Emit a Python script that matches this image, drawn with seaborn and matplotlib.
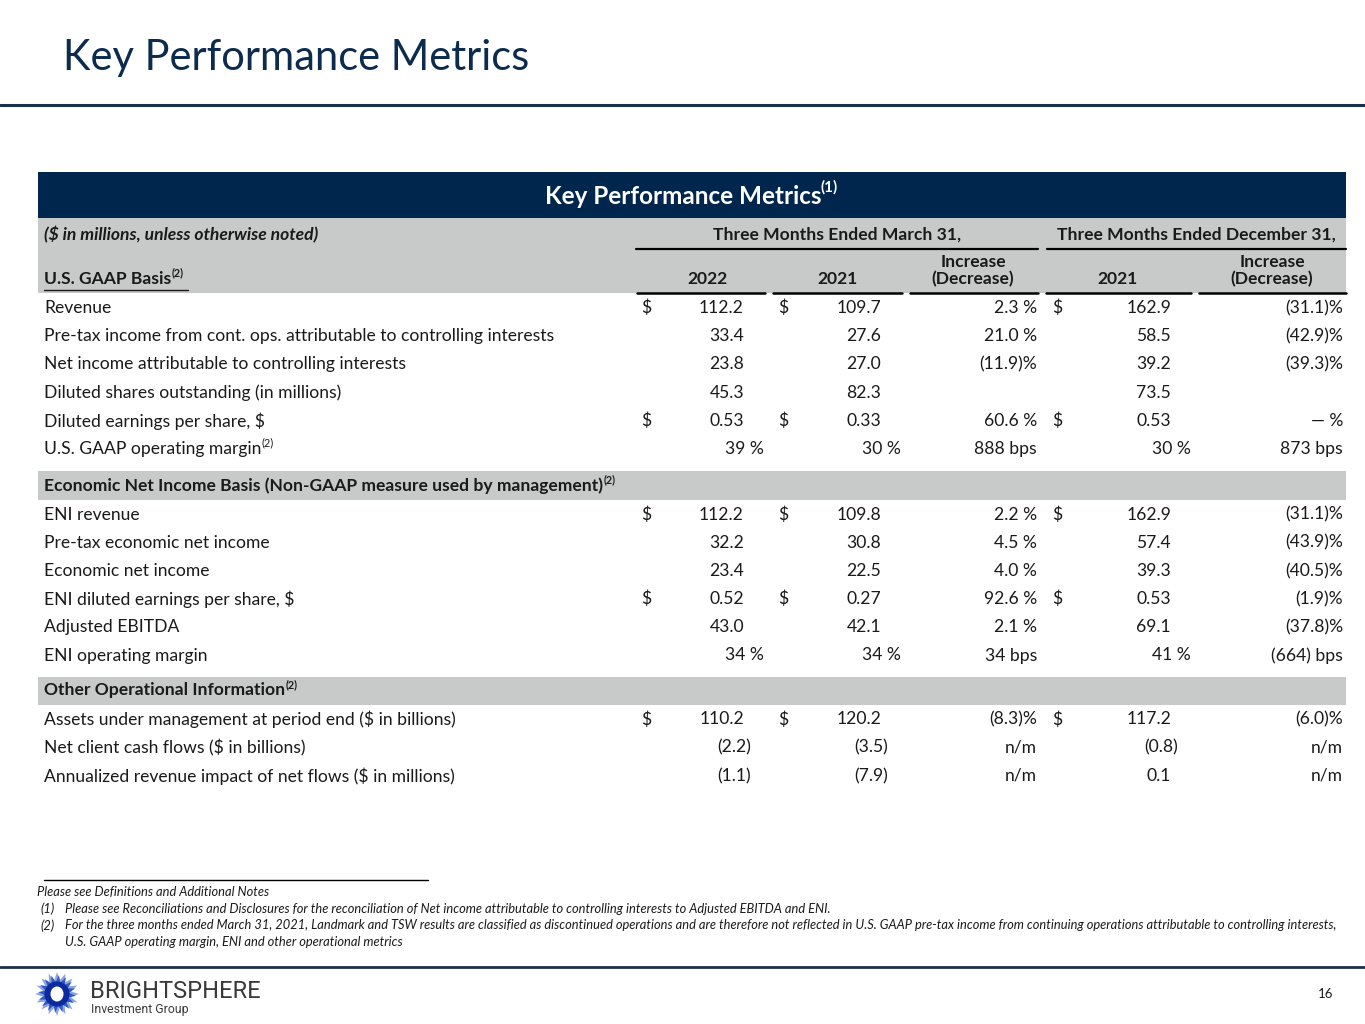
import numpy as np
import pandas as pd
import matplotlib.pyplot as plt
import matplotlib.patches as mpatches
import seaborn as sns

sns.set_theme(style="white")
plt.rcParams['font.family'] = ['Lato', 'DejaVu Sans']

NAVY = '#00264D'
GRAY = '#C8CACA'
INK = '#1A1A1A'

# ---- data (as shown on the slide) ----
col_heads = ['2022', '2021', 'Increase\n(Decrease)', '2021', 'Increase\n(Decrease)']

gaap_labels = ['Revenue',
               'Pre-tax income from cont. ops. attributable to controlling interests',
               'Net income attributable to controlling interests',
               'Diluted shares outstanding (in millions)',
               'Diluted earnings per share, $',
               'U.S. GAAP operating margin']
gaap_sup = [None, None, None, None, None, '(2)']
gaap_dollar = [True, False, False, False, True, False]
gaap_mar22 = ['112.2', '33.4', '23.8', '45.3', '0.53', '39 %']
gaap_mar21 = ['109.7', '27.6', '27.0', '82.3', '0.33', '30 %']
gaap_chg_mar = ['2.3 %', '21.0 %', '(11.9)%', '', '60.6 %', '888 bps']
gaap_dec21 = ['162.9', '58.5', '39.2', '73.5', '0.53', '30 %']
gaap_chg_dec = ['(31.1)%', '(42.9)%', '(39.3)%', '', '— %', '873 bps']

eni_labels = ['ENI revenue', 'Pre-tax economic net income', 'Economic net income',
              'ENI diluted earnings per share, $', 'Adjusted EBITDA', 'ENI operating margin']
eni_dollar = [True, False, False, True, False, False]
eni_mar22 = ['112.2', '32.2', '23.4', '0.52', '43.0', '34 %']
eni_mar21 = ['109.8', '30.8', '22.5', '0.27', '42.1', '34 %']
eni_chg_mar = ['2.2 %', '4.5 %', '4.0 %', '92.6 %', '2.1 %', '34 bps']
eni_dec21 = ['162.9', '57.4', '39.3', '0.53', '69.1', '41 %']
eni_chg_dec = ['(31.1)%', '(43.9)%', '(40.5)%', '(1.9)%', '(37.8)%', '(664) bps']

ops_labels = ['Assets under management at period end ($ in billions)',
              'Net client cash flows ($ in billions)',
              'Annualized revenue impact of net flows ($ in millions)']
ops_dollar = [True, False, False]
ops_mar22 = ['110.2', '(2.2)', '(1.1)']
ops_mar21 = ['120.2', '(3.5)', '(7.9)']
ops_chg_mar = ['(8.3)%', 'n/m', 'n/m']
ops_dec21 = ['117.2', '(0.8)', '0.1']
ops_chg_dec = ['(6.0)%', 'n/m', 'n/m']

footnotes = ['Please see Reconciliations and Disclosures for the reconciliation of Net income attributable to controlling interests to Adjusted EBITDA and ENI.',
             'For the three months ended March 31, 2021, Landmark and TSW results are classified as discontinued operations and are therefore not reflected in U.S. GAAP pre-tax income from continuing operations attributable to controlling interests,\nU.S. GAAP operating margin, ENI and other operational metrics']

# ---- canvas in pixel units ----
W, H = 1365, 1024
fig = plt.figure(figsize=(W / 100, H / 100), dpi=100)
ax = fig.add_axes([0, 0, 1, 1])
ax.set_xlim(0, W)
ax.set_ylim(H, 0)
ax.axis('off')
renderer = fig.canvas.get_renderer()

BODY = 12.6


def put(x, y, s, sup=None, size=BODY, sup_size=None, **kw):
    kw.setdefault('color', INK)
    t = ax.text(x, y, s, fontsize=size, va='center', **kw)
    if sup:
        bb = t.get_window_extent(renderer)
        ax.text(bb.x1 + 0.5, y - size * 0.5, sup, fontsize=sup_size or size * 0.62,
                va='center', ha='left', color=kw['color'], fontweight=kw.get('fontweight', 'normal'))
    return t


# title
ax.text(63, 58, 'Key Performance Metrics', fontsize=30, color='#0D2B4E', va='center')
ax.plot([0, W], [105, 105], color='#1C2F4A', lw=2.2)

# table header bands
L, R = 38, 1346
ax.add_patch(mpatches.Rectangle((L, 172), R - L, 46, color=NAVY, lw=0))
ax.add_patch(mpatches.Rectangle((L, 218), R - L, 75, color=GRAY, lw=0))
ht = ax.text(683, 196, 'Key Performance Metrics', fontsize=17.5, fontweight='bold',
             color='white', va='center', ha='center')
bb = ht.get_window_extent(renderer)
ax.text(bb.x1 - 1, 187, '(1)', fontsize=11, fontweight='bold', color='white', va='center')

put(44, 235, '($ in millions, unless otherwise noted)', fontweight='bold', style='italic')
ax.text(837, 235, 'Three Months Ended March 31,', fontsize=BODY, fontweight='bold', ha='center', va='center', color=INK)
ax.text(1196, 235, 'Three Months Ended December 31,', fontsize=BODY, fontweight='bold', ha='center', va='center', color=INK)
ax.plot([636, 1038], [249, 249], color='black', lw=1.6)
ax.plot([1047, 1346], [249, 249], color='black', lw=1.6)

t = put(44, 279, 'U.S. GAAP Basis', sup='(2)', fontweight='bold')
bb = t.get_window_extent(renderer)
ax.plot([44, bb.x1 + 17], [290, 290], color=INK, lw=1)

seg = [(637, 765), (773, 902), (910, 1038), (1046, 1191), (1199, 1346)]
head_x = [707, 837, 973, 1118, 1272]
for (a, b), hx, lab in zip(seg, head_x, col_heads):
    ax.text(hx, 279 if '\n' not in lab else 270.5, lab, fontsize=BODY, fontweight='bold',
            ha='center', va='center', color=INK, linespacing=1.05)
    ax.plot([a, b], [293, 293], color='black', lw=1.8)

# column anchors
num_right = [744, 881, 1037, 1171, 1343]
dollar_x = [641, 778, None, 1052, None]


def num_cell(ci, y, s):
    if not s:
        return
    r = num_right[ci]
    if ci in (0, 1, 3):
        if s.endswith('%'):
            r += 20
        elif s.endswith(')'):
            r += 7
    ax.text(r, y, s, fontsize=BODY, ha='right', va='center', color=INK)


def draw_rows(y0, labels, dollars, cols, sups=None):
    ys = y0 + np.arange(len(labels)) * 28.2
    for i, y in enumerate(ys):
        put(44, y, labels[i], sup=sups[i] if sups else None)
        for ci, col in enumerate(cols):
            num_cell(ci, y, col[i])
        if dollars[i]:
            for dx in dollar_x:
                if dx is not None:
                    ax.text(dx, y, '$', fontsize=BODY, ha='left', va='center', color=INK)
    return ys[-1]


last = draw_rows(308, gaap_labels, gaap_dollar,
                 [gaap_mar22, gaap_mar21, gaap_chg_mar, gaap_dec21, gaap_chg_dec], gaap_sup)

band = last + 36.5
ax.add_patch(mpatches.Rectangle((L, band - 14.5), R - L, 29, color=GRAY, lw=0))
put(44, band, 'Economic Net Income Basis (Non-GAAP measure used by management)', sup='(2)', fontweight='bold')
last = draw_rows(band + 29, eni_labels, eni_dollar,
                 [eni_mar22, eni_mar21, eni_chg_mar, eni_dec21, eni_chg_dec])

band = last + 35
ax.add_patch(mpatches.Rectangle((L, band - 14), R - L, 28, color=GRAY, lw=0))
put(44, band, 'Other Operational Information', sup='(2)', fontweight='bold')
draw_rows(band + 29, ops_labels, ops_dollar,
          [ops_mar22, ops_mar21, ops_chg_mar, ops_dec21, ops_chg_dec])

# footnotes
FN = 9.25
ax.plot([44, 428], [880, 880], color='black', lw=1)
ax.text(37, 892, 'Please see Definitions and Additional Notes', fontsize=FN, style='italic', va='center', color=INK)
fy = 909
for k, note in enumerate(footnotes):
    ax.text(40, fy, f'({k + 1})', fontsize=FN, style='italic', va='center', color=INK)
    for line in note.split('\n'):
        ax.text(65, fy, line, fontsize=FN, style='italic', va='center', color=INK)
        fy += 16.3

ax.plot([0, W], [967, 967], color='#1C2F4A', lw=2)

# logo
cx, cy = 57, 994
n = 16
ang = np.linspace(0, 2 * np.pi, 2 * n, endpoint=False)
rad = np.where(np.arange(2 * n) % 2 == 0, 22, 14)
ax.add_patch(mpatches.Polygon(np.c_[cx + rad * np.cos(ang), cy + rad * np.sin(ang)], color='#8AA6E0', lw=0))
ang2 = ang + np.pi / (2 * n)
rad2 = np.where(np.arange(2 * n) % 2 == 0, 19, 12)
ax.add_patch(mpatches.Polygon(np.c_[cx + rad2 * np.cos(ang2), cy + rad2 * np.sin(ang2)], color='#3556C4', lw=0))
ax.add_patch(mpatches.Circle((cx, cy), 12.5, color='#0B2A9E', lw=0))
ax.add_patch(mpatches.Ellipse((cx, cy), 13, 15, color='white', lw=0))
ax.text(90, 992, 'BRIGHTSPHERE', fontsize=17, color='#3A3A3A', va='center', family=['Roboto', 'DejaVu Sans'])
ax.text(91, 1009, 'Investment Group', fontsize=8.8, color='#3A3A3A', va='center', family=['Roboto', 'DejaVu Sans'])
ax.text(1333, 994, '16', fontsize=9.5, ha='right', va='center', color=INK)

fig.savefig('out.png', dpi=100)
